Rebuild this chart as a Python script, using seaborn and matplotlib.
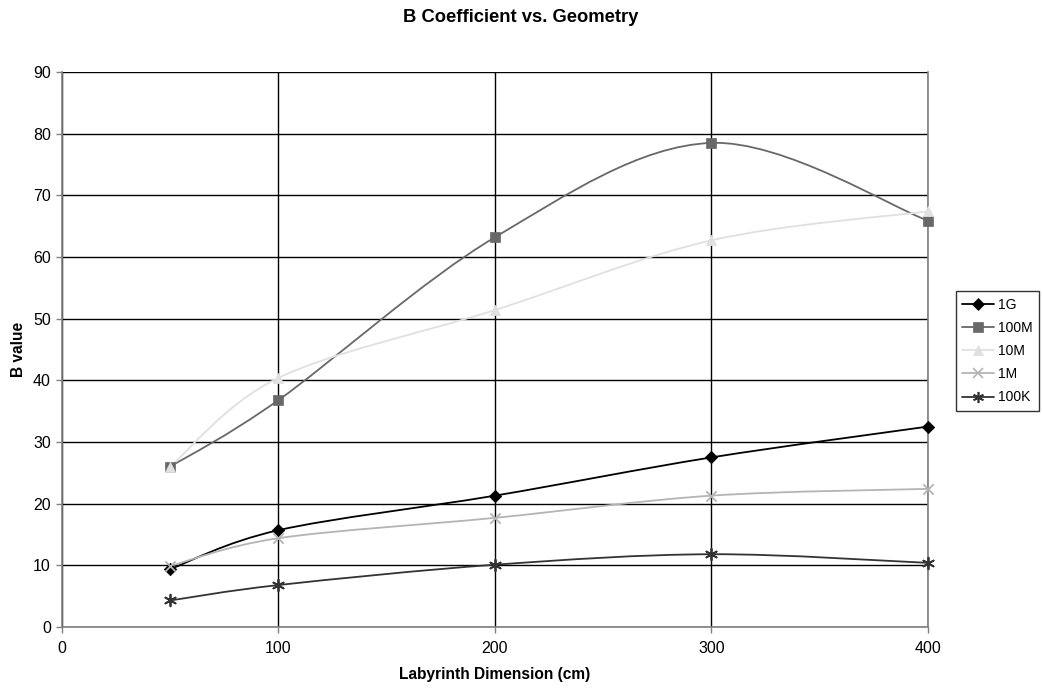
import numpy as np
import pandas as pd
import matplotlib
matplotlib.use("Agg")
import matplotlib.pyplot as plt
from matplotlib.path import Path
from matplotlib.patches import PathPatch
from matplotlib.lines import Line2D
import seaborn as sns

# Labyrinth dimension (cm) and B coefficient per frequency
dimension = [50, 100, 200, 300, 400]
b_1g = [9.4, 15.7, 21.3, 27.5, 32.5]
b_100m = [26.0, 36.8, 63.2, 78.5, 65.9]
b_10m = [26.0, 40.4, 51.4, 62.7, 67.4]
b_1m = [9.9, 14.4, 17.7, 21.3, 22.4]
b_100k = [4.3, 6.8, 10.1, 11.8, 10.4]

series = ["1G", "100M", "10M", "1M", "100K"]
values = [b_1g, b_100m, b_10m, b_1m, b_100k]

df = pd.DataFrame({"Labyrinth Dimension (cm)": np.tile(dimension, len(series)),
                   "B value": np.concatenate(values),
                   "series": np.repeat(series, len(dimension))})

ASTERISK = (6, 2, 0)
styles = {
    "1G":   dict(color="#000000", marker="D", size=40),
    "100M": dict(color="#686868", marker="s", size=50),
    "10M":  dict(color="#e0e0e0", marker="^", size=55),
    "1M":   dict(color="#b4b4b4", marker="x", size=55),
    "100K": dict(color="#333333", marker=ASTERISK, size=70),
}
LINE_W = 1.3

sns.set_style("white")
plt.rcParams["font.family"] = ["Liberation Sans", "DejaVu Sans"]
plt.rcParams["text.color"] = "black"
plt.rcParams["axes.labelcolor"] = "black"
plt.rcParams["xtick.labelcolor"] = "black"
plt.rcParams["ytick.labelcolor"] = "black"

fig = plt.figure(figsize=(10.42, 6.89), dpi=100)
ax = fig.add_axes([0.0595, 0.09, 0.831, 0.8055])


def smooth_path(xs, ys):
    """Cubic Bezier path through the points (Catmull-Rom style smoothing)."""
    pts = np.column_stack([xs, ys]).astype(float)
    n = len(pts)
    verts = [pts[0]]
    codes = [Path.MOVETO]
    for i in range(n - 1):
        p0 = pts[i - 1] if i > 0 else pts[i]
        p1, p2 = pts[i], pts[i + 1]
        p3 = pts[i + 2] if i + 2 < n else pts[i + 1]
        c1 = p1 + (p2 - p0) / 6.0
        c2 = p2 - (p3 - p1) / 6.0
        verts += [c1, c2, p2]
        codes += [Path.CURVE4] * 3
    return Path(verts, codes)


handles = []
for name in series:
    st = styles[name]
    sub = df[df["series"] == name]
    patch = PathPatch(smooth_path(sub["Labyrinth Dimension (cm)"], sub["B value"]),
                      facecolor="none", edgecolor=st["color"], lw=LINE_W, zorder=3)
    ax.add_patch(patch)
    line_marker = st["marker"] in ("x", ASTERISK)
    sns.scatterplot(data=sub, x="Labyrinth Dimension (cm)", y="B value", ax=ax,
                    marker=st["marker"], s=st["size"], color=st["color"],
                    edgecolor=None if line_marker else st["color"],
                    linewidth=1.3 if line_marker else 0.5, zorder=4,
                    legend=False, clip_on=False)
    handles.append(Line2D([], [], color=st["color"], lw=LINE_W,
                          marker=st["marker"], markersize=6.5 if name != "100K" else 8,
                          markeredgewidth=1.2 if line_marker else 0.5,
                          markeredgecolor=st["color"], markerfacecolor=st["color"],
                          label=name))

ax.set_xlim(0, 400)
ax.set_ylim(0, 90)
ax.set_xticks(np.arange(0, 401, 100))
ax.set_yticks(np.arange(0, 91, 10))
ax.grid(True, color="black", lw=1.0)
ax.set_axisbelow(True)
for side in ["left", "bottom", "right"]:
    ax.spines[side].set_color("#808080")
    ax.spines[side].set_linewidth(1.2)
ax.spines["top"].set_visible(False)
ax.tick_params(axis="both", which="major", direction="out", length=4, width=1,
               color="#808080", labelsize=11.5, pad=4, bottom=True, left=True,
               labelcolor="black")
ax.tick_params(axis="x", pad=6)

ax.set_xlabel("Labyrinth Dimension (cm)", fontsize=11.2, fontweight="bold", color="black")
ax.set_ylabel("B value", fontsize=11.2, fontweight="bold", color="black")
ax.xaxis.set_label_coords(0.5, -0.0865)
ax.xaxis.label.set_va("center")
ax.yaxis.set_label_coords(-0.0508, 0.5)
ax.yaxis.label.set_va("center")
fig.text(0.5, 0.975, "B Coefficient vs. Geometry", fontsize=13.2,
         fontweight="bold", ha="center", va="center", color="black")

leg = fig.legend(handles=handles, loc="upper left", bbox_to_anchor=(0.9175, 0.577),
                 frameon=True, fancybox=False, fontsize=10, handlelength=2.3,
                 handletextpad=0.3, labelspacing=0.66, borderpad=0.45,
                 borderaxespad=0, labelcolor="black")
leg.get_frame().set_edgecolor("black")
leg.get_frame().set_linewidth(1.0)

fig.savefig("out.png", dpi=100)
